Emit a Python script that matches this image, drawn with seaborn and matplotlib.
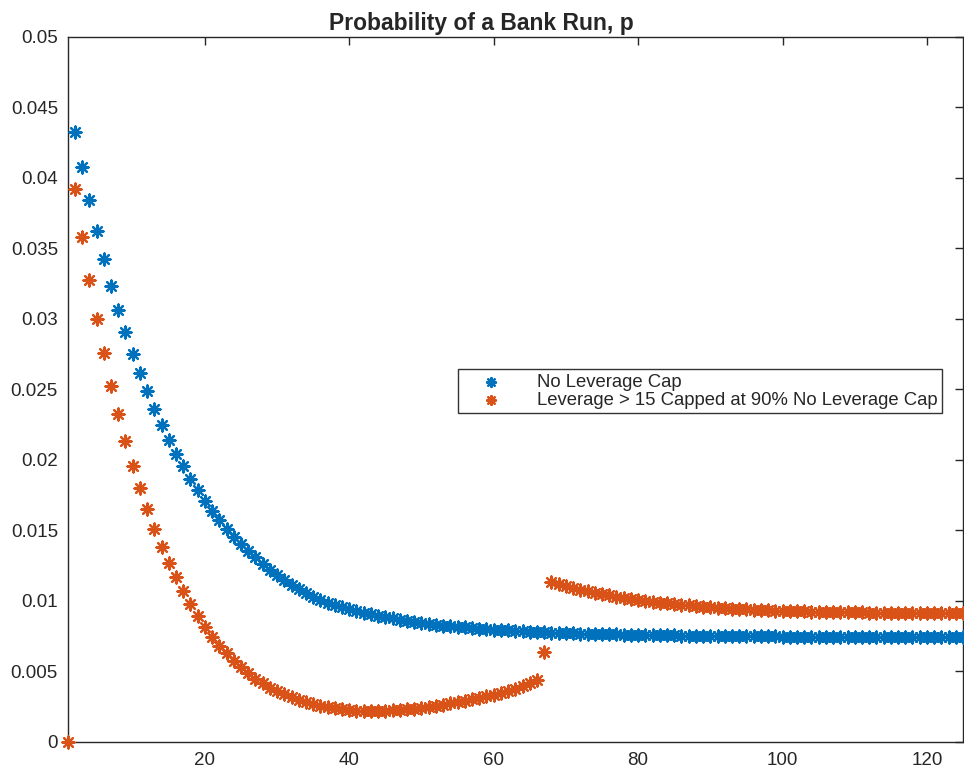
import numpy as np
import pandas as pd
import seaborn as sns
import matplotlib
matplotlib.use("Agg")
import matplotlib.pyplot as plt
from matplotlib.ticker import FuncFormatter

# periods 1..125
x = list(range(1, 126))

# No leverage cap (first period off the chart)
no_cap = [np.nan,
    .04326, .04076, .03844, .03624, .03426, .03236, .03066, .02905, .02752,
    .02617, .02487, .02362, .02250, .02144, .02045, .01957, .01866, .01789, .01711,
    .01640, .01574, .01513, .01456, .01404, .01354, .01310, .01264, .01222, .01186,
    .01150, .01115, .01083, .01055, .01030, .01007, .00986, .00969, .00954, .00940,
    .00928, .00918, .00907, .00896, .00886, .00876, .00867, .00859, .00852, .00845,
    .00838, .00832, .00826, .00821, .00816, .00812, .00808, .00804, .00800, .00797,
    .00794, .00791, .00788, .00785, .00783, .00780, .00778, .00776, .00774, .00772,
    .00770, .00769, .00767, .00766, .00765, .00764, .00763, .00762, .00761, .00760,
    .00759, .00758, .00757, .00756, .00756, .00755, .00754, .00754, .00753, .00753,
    .00752, .00752, .00751, .00751, .00750, .00750, .00749, .00749, .00749, .00748,
    .00748, .00748, .00748, .00747, .00747, .00747, .00747, .00747, .00746, .00746,
    .00746, .00746, .00746, .00746, .00746, .00745, .00745, .00745, .00745, .00745,
    .00745, .00745, .00745, .00745, .00745]

# Leverage > 15 capped at 90%
capped = [0.0,
    .03922, .03579, .03277, .03002, .02757, .02527, .02324, .02133, .01957,
    .01799, .01650, .01513, .01381, .01267, .01172, .01070, .00979, .00894, .00818,
    .00747, .00681, .00629, .00577, .00530, .00487, .00449, .00416, .00386, .00360,
    .00337, .00316, .00298, .00282, .00268, .00256, .00246, .00238, .00231, .00226,
    .00222, .00220, .00219, .00220, .00221, .00224, .00228, .00232, .00237, .00243,
    .00250, .00257, .00265, .00273, .00282, .00292, .00302, .00313, .00324, .00336,
    .00349, .00362, .00378, .00396, .00416, .00440, .00636, .01135, .01120, .01106,
    .01093, .01081, .01070, .01059, .01049, .01040, .01031, .01023, .01015, .01008,
    .01001, .00995, .00989, .00983, .00978, .00973, .00968, .00964, .00960, .00956,
    .00952, .00949, .00946, .00943, .00940, .00938, .00935, .00933, .00931, .00929,
    .00928, .00927, .00926, .00925, .00924, .00923, .00922, .00921, .00920, .00920,
    .00919, .00918, .00918, .00917, .00917, .00916, .00916, .00915, .00915, .00914,
    .00914, .00913, .00913, .00912, .00912]

labels = ["No Leverage Cap", "Leverage > 15 Capped at 90% No Leverage Cap"]
colors = ["#0072BD", "#D95319"]

df = pd.concat([
    pd.DataFrame({"t": x, "p": no_cap, "series": labels[0]}),
    pd.DataFrame({"t": x, "p": capped, "series": labels[1]}),
]).dropna()

sns.set_style("white")
plt.rcParams["font.family"] = ["Liberation Sans", "DejaVu Sans"]

fig = plt.figure(figsize=(9.64, 7.7), dpi=100)
ax = fig.add_axes([0.0702, 0.0364, 0.9288, 0.9156])

star = (8, 2, 0)
for lab, col in zip(labels, colors):
    sub = df[df.series == lab]
    ax.scatter(sub.t, sub.p, marker=star, s=75, color=col, linewidths=1.6,
               label=lab, zorder=3, clip_on=False)

ax.set_xlim(1, 125)
ax.set_ylim(0, 0.05)
ax.set_xticks([20, 40, 60, 80, 100, 120])
ax.set_yticks(np.arange(0, 0.0501, 0.005))
ax.yaxis.set_major_formatter(FuncFormatter(lambda v, pos: f"{v:g}"))
ax.tick_params(direction="in", length=6, width=1, top=True, right=True,
               labelsize=13.5, colors="#262626", pad=7)
for s in ax.spines.values():
    s.set_visible(True)
    s.set_color("#262626")
    s.set_linewidth(1)
ax.set_xlabel("")
ax.set_ylabel("")
ax.set_title("Probability of a Bank Run, p", fontsize=16.5, fontweight="bold",
             x=0.4626, pad=5)

leg = ax.legend(loc="upper right", bbox_to_anchor=(0.9765, 0.529), fontsize=13.3,
                frameon=True, fancybox=False, edgecolor="black", borderpad=0.25,
                labelspacing=0.05, handletextpad=1.0, borderaxespad=0,
                handlelength=3.0, markerscale=0.75)
leg.get_frame().set_linewidth(1)

fig.savefig("out.png", dpi=100)
